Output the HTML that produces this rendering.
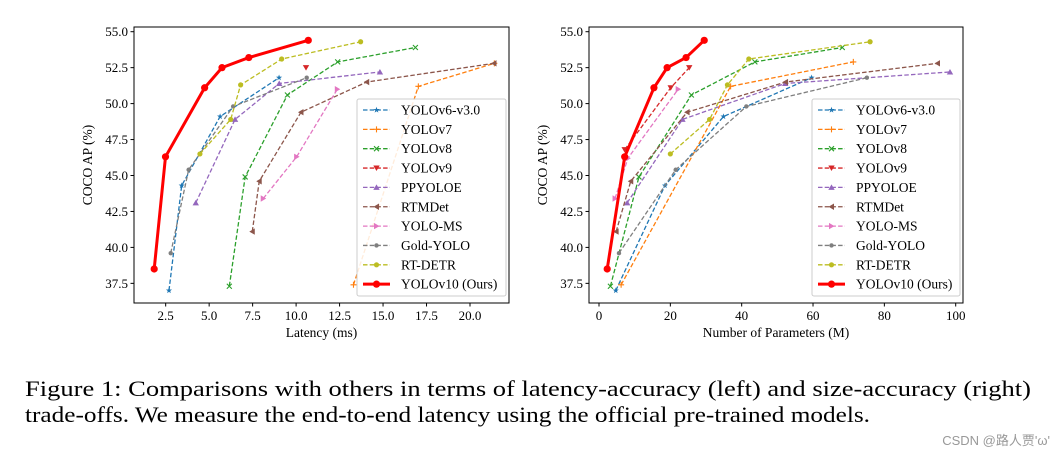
<!DOCTYPE html>
<html><head><meta charset="utf-8"><style>
html,body{margin:0;padding:0;background:#fff;width:1063px;height:459px;overflow:hidden}
svg text{font-family:"Liberation Serif",serif}
</style></head><body>
<svg id="fig" width="1063" height="459" xmlns="http://www.w3.org/2000/svg"></svg>
<script>
const seriesNames=["YOLOv6-v3.0","YOLOv7","YOLOv8","YOLOv9","PPYOLOE","RTMDet","YOLO-MS","Gold-YOLO","RT-DETR","YOLOv10 (Ours)"];
const seriesColors=["#1f77b4","#ff7f0e","#2ca02c","#d62728","#9467bd","#8c564b","#e377c2","#7f7f7f","#bcbd22","#ff0000"];
const seriesMarkers=["star","plus","x","vdown","vup","left","right","dot","circle","bigcircle"];
const apValues=[
 [37.0,44.3,49.1,51.8],
 [37.4,51.2,52.8],
 [37.3,44.9,50.6,52.9,53.9],
 [52.5],
 [43.1,48.9,51.4,52.2],
 [41.1,44.6,49.4,51.5,52.8],
 [43.4,46.3,51.0],
 [39.6,45.4,49.8,51.8],
 [46.5,48.9,51.3,53.1,54.3],
 [38.5,46.3,51.1,52.5,53.2,54.4]];
const latencyValues=[
 [2.69,3.42,5.63,9.02],
 [13.3,17.03,21.4],
 [6.16,7.07,9.50,12.39,16.86],
 [10.57],
 [4.23,6.49,9.03,14.82],
 [7.48,7.88,10.28,14.06,21.38],
 [8.11,10.03,12.37],
 [2.79,3.82,6.38,10.61],
 [4.47,6.24,6.81,9.17,13.71],
 [1.84,2.49,4.74,5.74,7.28,10.70]];
const apParams=[
 [37.0,44.3,49.1,51.8],
 [37.4,51.2,52.9],
 [37.3,44.9,50.6,52.9,53.9],
 [46.8,51.1,52.5],
 [43.1,48.9,51.4,52.2],
 [41.1,44.6,49.4,51.5,52.8],
 [43.4,46.2,51.0],
 [39.6,45.4,49.8,51.8],
 [46.5,48.9,51.3,53.1,54.3],
 [38.5,46.3,51.1,52.5,53.2,54.4]];
const paramValues=[
 [4.7,18.5,34.9,59.6],
 [6.2,36.9,71.3],
 [3.2,11.2,25.9,43.7,68.2],
 [7.2,20.1,25.3],
 [7.9,23.4,52.2,98.4],
 [4.8,8.9,24.7,52.3,94.9],
 [4.5,8.1,22.2],
 [5.6,21.5,41.3,75.1],
 [20,31,36,42,76],
 [2.3,7.2,15.4,19.1,24.4,29.5]];
const yTicks=[37.5,40.0,42.5,45.0,47.5,50.0,52.5,55.0];
const latencyTicks=[2.5,5.0,7.5,10.0,12.5,15.0,17.5,20.0];
const paramTicks=[0,20,40,60,80,100];

const NS="http://www.w3.org/2000/svg";
const svg=document.getElementById('fig');
function el(tag,attrs,parent,text){const e=document.createElementNS(NS,tag);for(const k in attrs)e.setAttribute(k,attrs[k]);if(text!==undefined)e.textContent=text;(parent||svg).appendChild(e);return e;}
const yScale=v=>31.7+(55-v)*14.38;

function marker(g,type,x,y,c){
 let m;
 if(type==='bigcircle'){m=el('circle',{cx:x,cy:y,r:3.6,fill:c},g);}
 else if(type==='circle'){m=el('circle',{cx:x,cy:y,r:2.6,fill:c},g);}
 else if(type==='dot'){m=el('circle',{cx:x,cy:y,r:2.2,fill:c},g);}
 else if(type==='plus'){m=el('path',{d:`M${x-3} ${y}H${x+3}M${x} ${y-3}V${y+3}`,stroke:c,'stroke-width':1.1,fill:'none'},g);}
 else if(type==='x'){m=el('path',{d:`M${x-2.5} ${y-2.5}L${x+2.5} ${y+2.5}M${x-2.5} ${y+2.5}L${x+2.5} ${y-2.5}`,stroke:c,'stroke-width':1.1,fill:'none'},g);}
 else if(type==='vdown'){m=el('path',{d:`M${x-3.2} ${y-2.5}L${x+3.2} ${y-2.5}L${x} ${y+3}Z`,fill:c},g);}
 else if(type==='vup'){m=el('path',{d:`M${x-3.2} ${y+2.5}L${x+3.2} ${y+2.5}L${x} ${y-3}Z`,fill:c},g);}
 else if(type==='left'){m=el('path',{d:`M${x+2.5} ${y-3.2}L${x+2.5} ${y+3.2}L${x-3} ${y}Z`,fill:c},g);}
 else if(type==='right'){m=el('path',{d:`M${x-2.5} ${y-3.2}L${x-2.5} ${y+3.2}L${x+3} ${y}Z`,fill:c},g);}
 else {let p='';for(let i=0;i<10;i++){const r=i%2?1.3:3.2,a=-Math.PI/2+i*Math.PI/5;p+=(i?'L':'M')+(x+r*Math.cos(a)).toFixed(2)+' '+(y+r*Math.sin(a)).toFixed(2);}m=el('path',{d:p+'Z',fill:c},g);}
 
 
}

function panel(name,x0,x1,xScale,xs,ys,xTicks,xfmt,xlabel,legendX){
 const g=el('g',{});
 
 
 const clipId=name+'-clip';
 const cp=el('clipPath',{id:clipId},g);el('rect',{x:x0,y:27,width:x1-x0,height:276},cp);
 const plot=el('g',{'clip-path':`url(#${clipId})`},g);
 for(let s=0;s<seriesNames.length;s++){
  const sg=el('g',{},plot);
  
  
  const pts=xs[s].map((v,i)=>[xScale(v),yScale(ys[s][i])]);
  const big=s===9;
  el('polyline',{points:pts.map(p=>p.join(',')).join(' '),fill:'none',stroke:seriesColors[s],'stroke-width':big?3:1.3,'stroke-dasharray':big?'none':'4.5,2.2'},sg);
  pts.forEach(p=>marker(sg,seriesMarkers[s],p[0],p[1],seriesColors[s]));
 }
 const frame=el('rect',{x:x0,y:27,width:x1-x0,height:276,fill:'none',stroke:'#000','stroke-width':1},g);
 
 
 yTicks.forEach(t=>{const y=yScale(t);el('line',{x1:x0-3.5,x2:x0,y1:y,y2:y,stroke:'#000'},g);
  const tx=el('text',{x:x0-6,y:y+4.5,'font-size':13,'text-anchor':'end'},g,t.toFixed(1));
  });
 xTicks.forEach(t=>{const x=xScale(t);el('line',{x1:x,x2:x,y1:303,y2:306.5,stroke:'#000'},g);
  const tx=el('text',{x:x,y:320,'font-size':13,'text-anchor':'middle'},g,xfmt(t));
  });
 const xl=el('text',{x:(x0+x1)/2,y:337,'font-size':13.5,'text-anchor':'middle'},g,xlabel);
 
 const yl=el('text',{x:0,y:0,'font-size':13.5,'text-anchor':'middle',transform:`translate(${x0-42},165) rotate(-90)`},g,'COCO AP (%)');
 
 const lg=el('g',{},g);
 
 el('rect',{x:legendX,y:99,width:x1-legendX-3,height:197,rx:2,fill:'#fff','fill-opacity':0.85,stroke:'#ccc'},lg);
 seriesNames.forEach((n,s)=>{
  const y=110+s*19.35;const e=el('g',{},lg);
  
  const big=s===9;
  el('line',{x1:legendX+6,x2:legendX+33,y1:y,y2:y,stroke:seriesColors[s],'stroke-width':big?3:1.3,'stroke-dasharray':big?'none':'4.5,2.2'},e);
  marker(e,seriesMarkers[s],legendX+19.5,y,seriesColors[s]);
  el('text',{x:legendX+44,y:y+4.5,'font-size':13.5},e,n);
 });
}
panel('latency-chart',134,509,v=>122.2+v*17.39,latencyValues,apValues,latencyTicks,t=>t.toFixed(1),'Latency (ms)',357);
panel('params-chart',589,963,v=>599+v*3.567,paramValues,apParams,paramTicks,t=>String(t),'Number of Parameters (M)',812);

const c1=el('text',{x:25,y:396,'font-size':22.5,textLength:1006,lengthAdjust:'spacingAndGlyphs'},svg,'Figure 1: Comparisons with others in terms of latency-accuracy (left) and size-accuracy (right)');

const c2=el('text',{x:25,y:422,'font-size':22.5,textLength:845,lengthAdjust:'spacingAndGlyphs'},svg,'trade-offs. We measure the end-to-end latency using the official pre-trained models.');

const wm=el('text',{x:1050,y:445,'font-size':13,'text-anchor':'end',fill:'#999',style:'font-family:"Liberation Sans","Noto Sans CJK SC",sans-serif'},svg,"CSDN @路人贾'ω'");

</script>
</body></html>
